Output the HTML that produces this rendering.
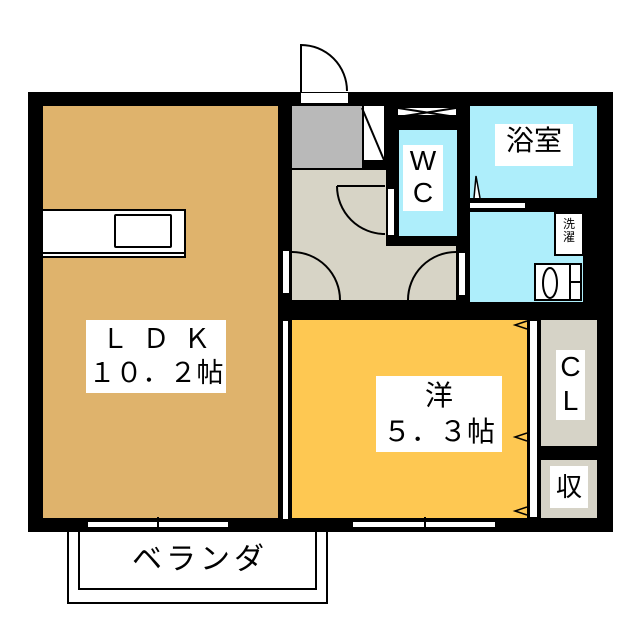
<!DOCTYPE html>
<html><head><meta charset="utf-8"><style>
body{margin:0;width:640px;height:640px;background:#fff;position:relative;overflow:hidden;font-family:"Liberation Sans","Noto Sans CJK JP",sans-serif}
div{position:absolute;box-sizing:border-box}
.lbl{background:#fff;color:#000;text-align:center;line-height:1.2;white-space:nowrap}
</style></head><body>
<div style="left:28px;top:92px;width:585px;height:440px;background:#000"></div>
<!-- LDK -->
<div style="left:43px;top:106px;width:235px;height:412px;background:#dfb36c"></div>
<div style="left:43px;top:209px;width:143px;height:49px;background:#fff;border:2px solid #000;border-left:none"></div>
<div style="left:43px;top:252px;width:143px;height:2px;background:#000"></div>
<div style="left:114px;top:214px;width:58px;height:34px;border:2px solid #000;border-radius:2px;background:#fff"></div>
<div class="lbl" style="left:86px;top:320px;width:140px;height:73px;font-size:27px;line-height:34px;padding-top:2px"><span style="letter-spacing:14px;margin-left:14px">ＬＤＫ</span><br>１０．２帖</div>
<!-- entrance -->
<div style="left:292px;top:106px;width:70px;height:62px;background:#b9b9b9"></div>
<div style="left:292px;top:168px;width:94px;height:132px;background:#d7d4c6;border-top:2px solid #000"></div>
<div style="left:292px;top:246px;width:164px;height:54px;background:#d7d4c6"></div>
<div style="left:362px;top:106px;width:24px;height:56px;background:#fff;border:2px solid #000;border-top:none"></div>
<div style="left:301px;top:93px;width:47px;height:10px;background:#fff"></div>
<div style="left:398px;top:106px;width:58px;height:11px;background:#fff;border:2px solid #000;border-left:none;border-right:none"></div>
<!-- WC -->
<div style="left:399px;top:130px;width:58px;height:106px;background:#aeeefb"></div>
<div class="lbl" style="left:403px;top:145px;width:40px;height:66px;font-size:28px;line-height:32px">W<br>C</div>
<div style="left:387px;top:188px;width:8px;height:48px;background:#fff;border:1px solid #000"></div>
<div style="left:282px;top:250px;width:8px;height:44px;background:#fff;border:1px solid #000"></div>
<div style="left:458px;top:252px;width:8px;height:44px;background:#fff;border:1px solid #000"></div>
<!-- bath -->
<div style="left:470px;top:106px;width:127px;height:92px;background:#aeeefb"></div>
<div class="lbl" style="left:495px;top:124px;width:78px;height:42px;font-size:28px">浴室</div>
<div style="left:470px;top:201px;width:57px;height:9px;background:#fff;border:2px solid #000;border-left:none"></div>
<div style="left:470px;top:212px;width:113px;height:90px;background:#aeeefb"></div>
<div style="left:554px;top:212px;width:30px;height:44px;background:#fff;border:2px solid #000;font-size:12px;line-height:13px;text-align:center;padding-top:4px">洗<br>濯</div>
<div style="left:534px;top:263px;width:48px;height:38px;background:#fff;border:2px solid #000"></div>
<div style="left:569px;top:263px;width:2px;height:38px;background:#000"></div>
<div style="left:569px;top:281px;width:13px;height:2px;background:#000"></div>
<!-- western -->
<div style="left:292px;top:320px;width:235px;height:198px;background:#fec852"></div>
<div style="left:282px;top:320px;width:7px;height:200px;background:#fff;border:1.5px solid #000"></div>
<div class="lbl" style="left:376px;top:376px;width:126px;height:76px;font-size:28px;line-height:36px;padding-top:2px">洋<br>５．３帖</div>
<div style="left:529px;top:320px;width:9px;height:198px;background:#fff;border:1.5px solid #000"></div>
<div style="left:541px;top:320px;width:56px;height:126px;background:#d6d3c7"></div>
<div class="lbl" style="left:556px;top:350px;width:29px;height:70px;font-size:28px;line-height:34px">C<br>L</div>
<div style="left:541px;top:460px;width:56px;height:58px;background:#d6d3c7"></div>
<div class="lbl" style="left:550px;top:466px;width:38px;height:42px;font-size:26px;line-height:42px">収</div>
<!-- windows -->
<div style="left:88px;top:520px;width:140px;height:8px;background:#fff;border-top:2px solid #000;border-bottom:1.5px solid #000"></div>
<div style="left:157px;top:517px;width:2px;height:14px;background:#000"></div>
<div style="left:353px;top:520px;width:142px;height:8px;background:#fff;border-top:2px solid #000;border-bottom:1.5px solid #000"></div>
<div style="left:424px;top:517px;width:2px;height:14px;background:#000"></div>
<!-- balcony -->
<div style="left:67px;top:532px;width:261px;height:72px;border:2px solid #000;border-top:none"></div>
<div style="left:78px;top:532px;width:239px;height:58px;border:2px solid #000;border-top:none"></div>
<div style="left:110px;top:534px;width:180px;font-size:30px;text-align:center;letter-spacing:4px">ベランダ</div>
<svg style="position:absolute;left:0;top:0" width="640" height="640">
<line x1="362" y1="108" x2="384" y2="160" stroke="#000" stroke-width="2"/>
<path d="M301 93 V45 A46 46 0 0 1 347 91" fill="none" stroke="#000" stroke-width="2"/>
<path d="M337 186 A48 48 0 0 0 385 234 M337 186 H385" fill="none" stroke="#000" stroke-width="2"/>
<path d="M292 252 A48 48 0 0 1 340 300" fill="none" stroke="#000" stroke-width="2"/>
<path d="M456 252 A48 48 0 0 0 408 300" fill="none" stroke="#000" stroke-width="2"/>
<path d="M398 108 L456 117 M398 117 L456 108" stroke="#000" stroke-width="2"/>
<path d="M474 198 L476 176 L480 198" fill="#fff" stroke="#000" stroke-width="1.5"/>
<path d="M527 329 L515 325 L527 321 M527 441 L515 437 L527 433 M527 515 L515 511 L527 507" fill="none" stroke="#000" stroke-width="1.5"/>
<ellipse cx="550" cy="283" rx="7" ry="15" fill="#fff" stroke="#000" stroke-width="2"/>
</svg>
</body></html>
